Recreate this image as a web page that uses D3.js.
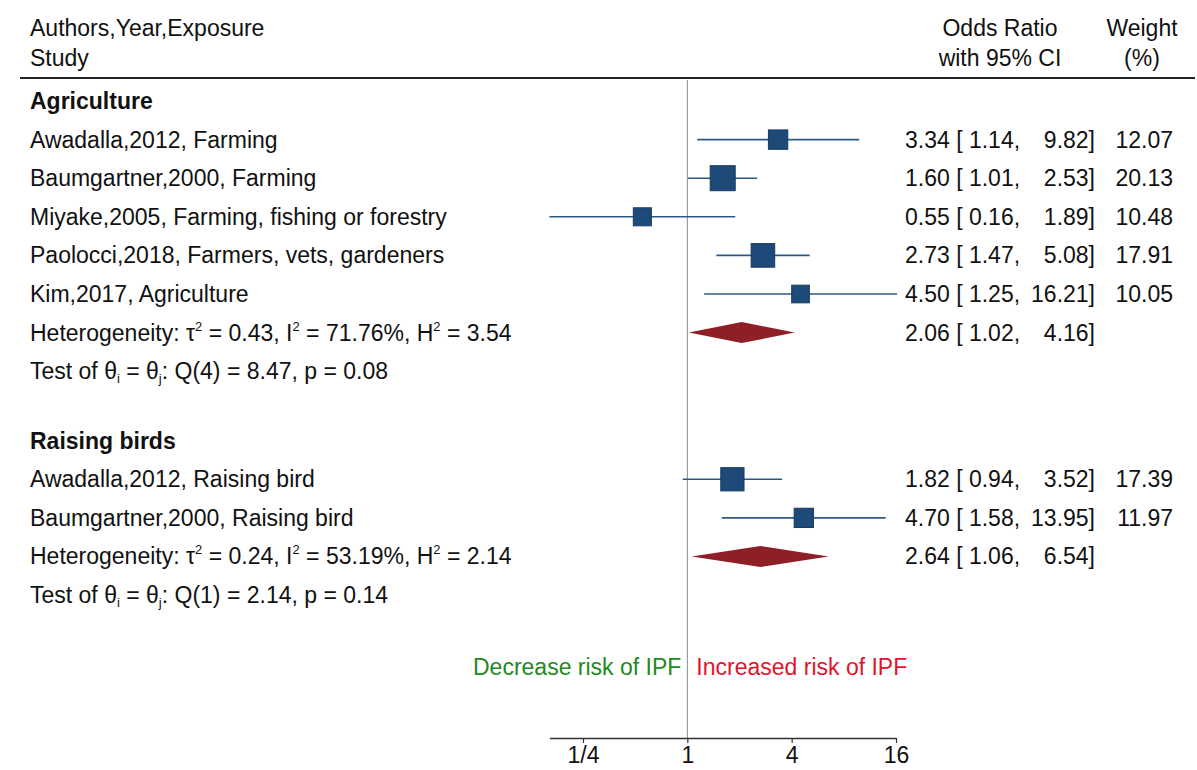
<!DOCTYPE html>
<html>
<head>
<meta charset="utf-8">
<script src="https://cdn.jsdelivr.net/npm/d3@7"></script>
<style>
  html, body { margin: 0; padding: 0; background: #fff; }
  svg { display: block; font-family: "Liberation Sans", Arial, sans-serif; }
</style>
</head>
<body>
<svg id="chart" width="1197" height="770"></svg>
<script>
// Agriculture subgroup
const agStudies = [
  "Awadalla,2012, Farming",
  "Baumgartner,2000, Farming",
  "Miyake,2005, Farming, fishing or forestry",
  "Paolocci,2018, Farmers, vets, gardeners",
  "Kim,2017, Agriculture"
];
const agOR = [3.34, 1.60, 0.55, 2.73, 4.50];
const agLow = [1.14, 1.01, 0.16, 1.47, 1.25];
const agHigh = [9.82, 2.53, 1.89, 5.08, 16.21];
const agWeight = [12.07, 20.13, 10.48, 17.91, 10.05];
const agPooled = [2.06, 1.02, 4.16];
const agHet = ["0.43", "71.76%", "3.54"];
const agTest = ["4", "8.47", "0.08"];

// Raising birds subgroup
const rbStudies = [
  "Awadalla,2012, Raising bird",
  "Baumgartner,2000, Raising bird"
];
const rbOR = [1.82, 4.70];
const rbLow = [0.94, 1.58];
const rbHigh = [3.52, 13.95];
const rbWeight = [17.39, 11.97];
const rbPooled = [2.64, 1.06, 6.54];
const rbHet = ["0.24", "53.19%", "2.14"];
const rbTest = ["1", "2.14", "0.14"];

const tickValues = [0.25, 1, 4, 16];
const tickLabels = ["1/4", "1", "4", "16"];

const groups = [
  { name: "Agriculture", studies: agStudies, or: agOR, lo: agLow, hi: agHigh, w: agWeight, pooled: agPooled, het: agHet, test: agTest },
  { name: "Raising birds", studies: rbStudies, or: rbOR, lo: rbLow, hi: rbHigh, w: rbWeight, pooled: rbPooled, het: rbHet, test: rbTest }
];

const svg = d3.select("#chart");
const FS = 23;
const SUB = 13;
const textCol = "#111";

// Row layout: each group = header, studies, heterogeneity, test, then a gap
const rows = [];
let idx = 0;
groups.forEach(g => {
  rows.push({ type: "group", idx: idx++, g });
  g.studies.forEach((s, i) => rows.push({ type: "study", idx: idx++, g, i }));
  rows.push({ type: "pooled", idx: idx++, g });
  rows.push({ type: "test", idx: idx++, g });
  idx += 0.8;
});

const y = d3.scaleLinear().domain([0, 1]).range([101, 139.6]);
const x = d3.scaleLog().base(2).domain([0.25, 16]).range([583, 896]);
const size = d3.scaleSqrt().domain([0, 20.13]).range([0, 25]);

const allLow = agLow.concat(rbLow);
const xMin = d3.min(allLow);

// Header
const hdr = svg.append("g").attr("fill", textCol).style("font-size", FS + "px");
hdr.append("text").attr("x", 30).attr("y", 36).text("Authors,Year,Exposure");
hdr.append("text").attr("x", 30).attr("y", 66).text("Study");
hdr.append("text").attr("x", 1000).attr("y", 36).attr("text-anchor", "middle").text("Odds Ratio");
hdr.append("text").attr("x", 1000).attr("y", 66).attr("text-anchor", "middle").text("with 95% CI");
hdr.append("text").attr("x", 1142).attr("y", 36).attr("text-anchor", "middle").text("Weight");
hdr.append("text").attr("x", 1142).attr("y", 66).attr("text-anchor", "middle").text("(%)");
svg.append("line").attr("x1", 20).attr("x2", 1195).attr("y1", 78).attr("y2", 78)
  .attr("stroke", "#222").attr("stroke-width", 2);

// Axis position
const axisY = 738;

// Reference line at OR = 1
svg.append("line")
  .attr("x1", x(1)).attr("x2", x(1))
  .attr("y1", 80).attr("y2", axisY)
  .attr("stroke", "#8a8a8a").attr("stroke-width", 1);

const body = svg.append("g").style("font-size", FS + "px").attr("fill", textCol);
const fmt = d3.format(".2f");

rows.forEach(r => {
  const cy = y(r.idx);
  const ty = cy + 8;
  const g = r.g;
  if (r.type === "group") {
    body.append("text").attr("x", 30).attr("y", ty).attr("font-weight", "bold").text(g.name);
  } else if (r.type === "study") {
    const i = r.i;
    body.append("text").attr("x", 30).attr("y", ty).text(g.studies[i]);
    body.append("line")
      .attr("x1", x(g.lo[i])).attr("x2", x(g.hi[i]))
      .attr("y1", cy).attr("y2", cy)
      .attr("stroke", "#2b5a88").attr("stroke-width", 1.6);
    const s = size(g.w[i]);
    body.append("rect")
      .attr("x", x(g.or[i]) - s / 2).attr("y", cy - s / 2)
      .attr("width", s).attr("height", s)
      .attr("fill", "#1d4a78").attr("stroke", "#163a60").attr("stroke-width", 1);
    body.append("text").attr("x", 905).attr("y", ty)
      .text(fmt(g.or[i]) + " [ " + fmt(g.lo[i]) + ",");
    body.append("text").attr("x", 1095).attr("y", ty).attr("text-anchor", "end")
      .text(fmt(g.hi[i]) + "]");
    body.append("text").attr("x", 1173).attr("y", ty).attr("text-anchor", "end")
      .text(fmt(g.w[i]));
  } else if (r.type === "pooled") {
    const t = body.append("text").attr("x", 30).attr("y", ty);
    t.append("tspan").text("Heterogeneity: τ");
    t.append("tspan").attr("dy", -10).style("font-size", SUB + "px").text("2");
    t.append("tspan").attr("dy", 10).text(" = " + g.het[0] + ", I");
    t.append("tspan").attr("dy", -10).style("font-size", SUB + "px").text("2");
    t.append("tspan").attr("dy", 10).text(" = " + g.het[1] + ", H");
    t.append("tspan").attr("dy", -10).style("font-size", SUB + "px").text("2");
    t.append("tspan").attr("dy", 10).text(" = " + g.het[2]);
    const [est, lo, hi] = g.pooled;
    const hh = 10.5;
    body.append("path")
      .attr("d", `M${x(lo)},${cy} L${x(est)},${cy - hh} L${x(hi)},${cy} L${x(est)},${cy + hh} Z`)
      .attr("fill", "#8e1f26");
    body.append("text").attr("x", 905).attr("y", ty)
      .text(fmt(est) + " [ " + fmt(lo) + ",");
    body.append("text").attr("x", 1095).attr("y", ty).attr("text-anchor", "end")
      .text(fmt(hi) + "]");
  } else if (r.type === "test") {
    const t = body.append("text").attr("x", 30).attr("y", ty);
    t.append("tspan").text("Test of θ");
    t.append("tspan").attr("dy", 4).style("font-size", SUB + "px").text("i");
    t.append("tspan").attr("dy", -4).text(" = θ");
    t.append("tspan").attr("dy", 4).style("font-size", SUB + "px").text("j");
    t.append("tspan").attr("dy", -4).text(": Q(" + g.test[0] + ") = " + g.test[1] + ", p = " + g.test[2]);
  }
});

// Direction labels
svg.append("text").attr("x", x(1) - 6).attr("y", 675).attr("text-anchor", "end")
  .style("font-size", FS + "px").attr("fill", "#1f8a1f").text("Decrease risk of IPF");
svg.append("text").attr("x", x(1) + 9).attr("y", 675)
  .style("font-size", FS + "px").attr("fill", "#e4122c").text("Increased risk of IPF");

// Axis
const axisScale = x.copy().domain([xMin, 16]).range([x(xMin), x(16)]);
const axis = d3.axisBottom(axisScale)
  .tickValues(tickValues)
  .tickFormat((d, i) => tickLabels[i])
  .tickSizeInner(5).tickSizeOuter(0).tickPadding(4);
const ag = svg.append("g").attr("transform", `translate(0,${axisY})`).call(axis);
ag.select(".domain").attr("stroke", "#333").attr("stroke-width", 1.5);
ag.selectAll(".tick line").attr("stroke", "#333").attr("stroke-width", 1.2);
ag.selectAll(".tick text").style("font-size", FS + "px").attr("fill", textCol)
  .style("font-family", "Liberation Sans, Arial, sans-serif");
</script>
</body>
</html>
